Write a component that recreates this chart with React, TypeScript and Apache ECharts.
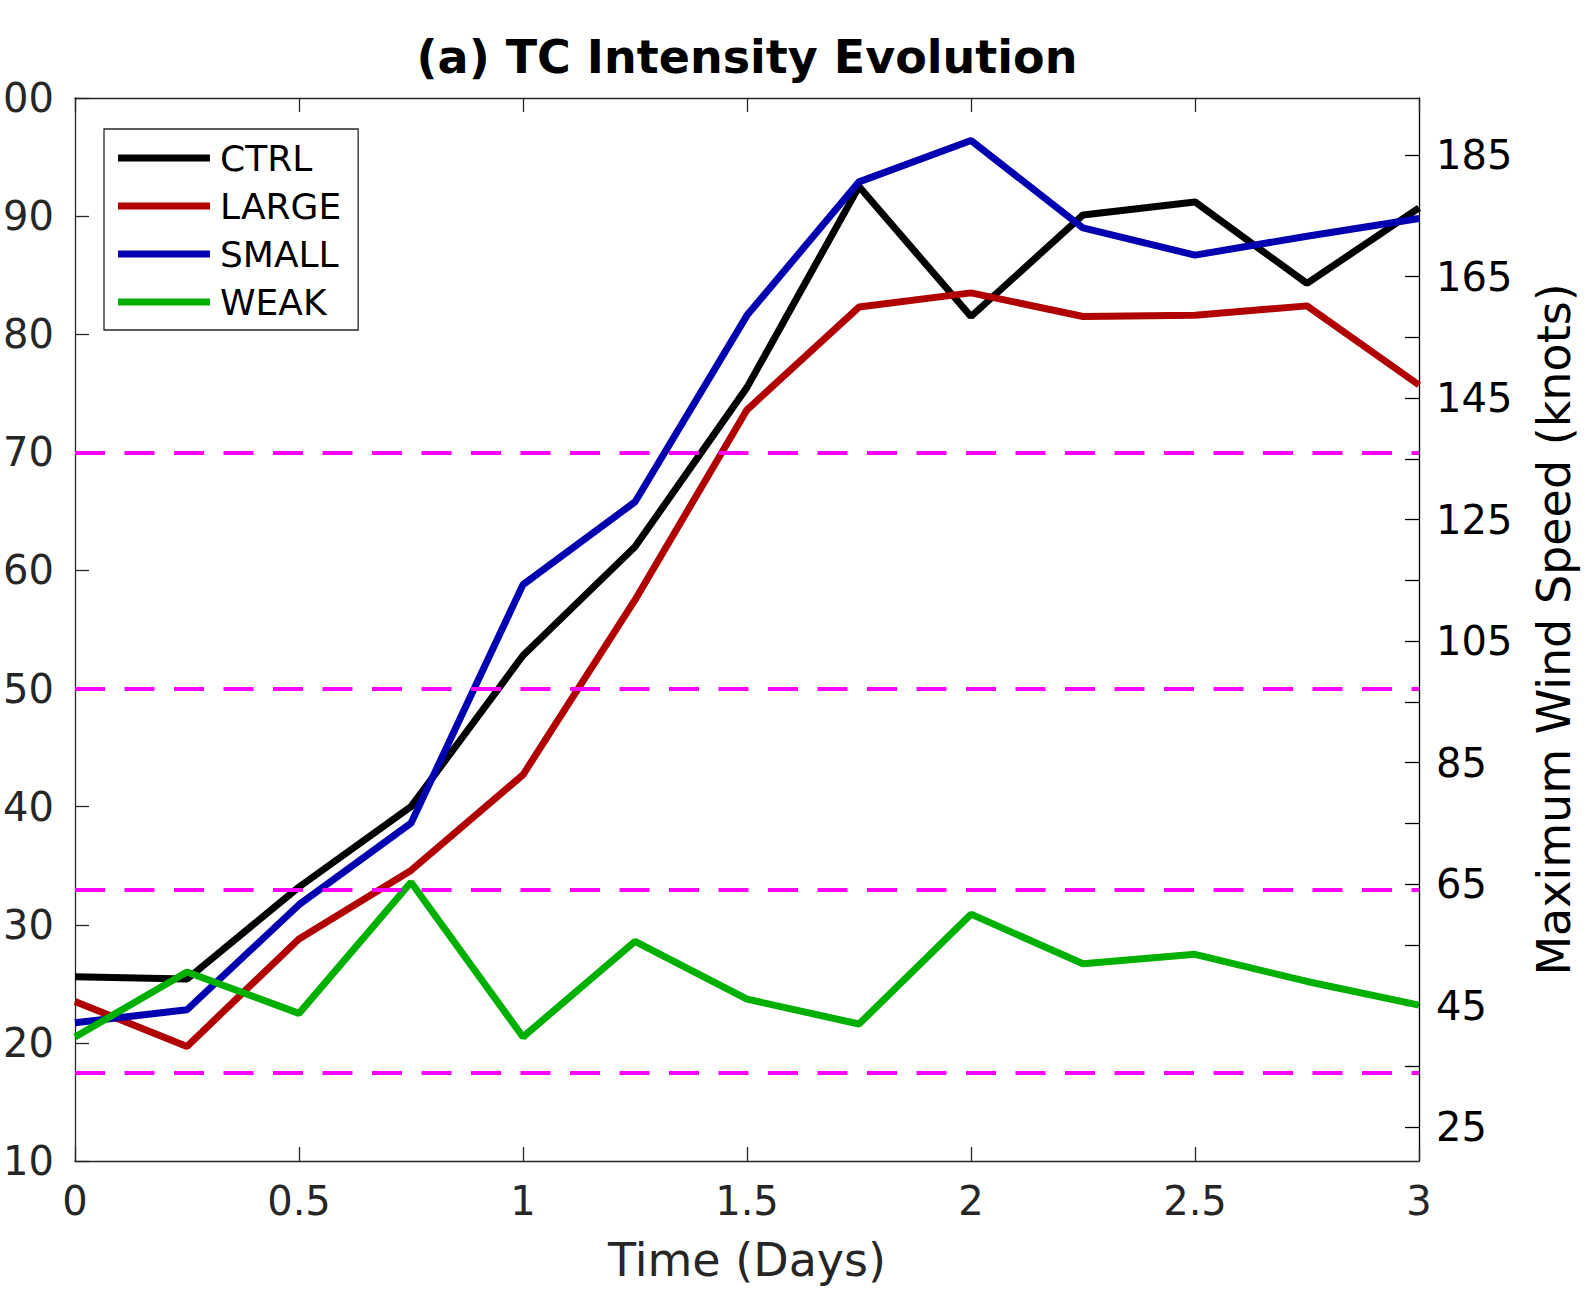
import React, { useEffect, useRef } from "react";
import * as echarts from "echarts";

const days = [0, 0.25, 0.5, 0.75, 1, 1.25, 1.5, 1.75, 2, 2.25, 2.5, 2.75, 3];
const ctrl = [25.6, 25.4, 33.2, 40.0, 52.8, 62.0, 75.5, 92.5, 81.5, 90.1, 91.2, 84.3, 90.7];
const large = [23.5, 19.7, 28.8, 34.6, 42.7, 57.5, 73.6, 82.3, 83.5, 81.5, 81.6, 82.4, 75.7];
const small = [21.7, 22.8, 31.7, 38.6, 58.8, 65.8, 81.6, 92.9, 96.4, 89.0, 86.7, 88.3, 89.8];
const weak = [20.5, 26.0, 22.5, 33.6, 20.5, 28.6, 23.7, 21.6, 30.9, 26.7, 27.5, 25.2, 23.2];
const thresholds = [17.5, 33, 50, 70];
const seriesNames = ["CTRL", "LARGE", "SMALL", "WEAK"];
const seriesColors = ["#000000", "#b00000", "#0000b0", "#00b000"];
const knotTicks = [25, 35, 45, 55, 65, 75, 85, 95, 105, 115, 125, 135, 145, 155, 165, 175, 185];
const knotLabels = [25, 45, 65, 85, 105, 125, 145, 165, 185];
const MS_TO_KT = 1.94384;
const yMin = 10;
const yMax = 100;

const FONT = "DejaVu Sans";

export default function App() {
  const ref = useRef<HTMLDivElement>(null);
  useEffect(() => {
    if (!ref.current) return;
    const chart = echarts.init(ref.current, null, { renderer: "svg" });
    const values = [ctrl, large, small, weak];
    const lineSeries = seriesNames.map((name, i) => ({
      name,
      type: "line",
      xAxisIndex: 0,
      yAxisIndex: 0,
      symbol: "none",
      z: 3,
      lineStyle: { color: seriesColors[i], width: 7 },
      itemStyle: { color: seriesColors[i] },
      data: days.map((d, j) => [d, values[i][j]]),
    }));
    chart.setOption({
      animation: false,
      backgroundColor: "#ffffff",
      textStyle: { fontFamily: FONT },
      graphic: [
        {
          type: "text",
          x: 747,
          y: 57,
          style: {
            text: "(a) TC Intensity Evolution",
            textAlign: "center",
            textVerticalAlign: "middle",
            fontFamily: FONT,
            fontSize: 46,
            fontWeight: "bold",
            fill: "#000000",
          },
        },
      ],
      grid: {
        left: 75,
        right: 170,
        top: 98,
        bottom: 130,
        containLabel: false,
        outerBoundsMode: "none",
      },
      legend: {
        data: seriesNames,
        orient: "vertical",
        left: 104,
        top: 129,
        icon: "rect",
        itemWidth: 92,
        itemHeight: 7,
        itemGap: 12,
        padding: [11, 17, 10, 14],
        borderColor: "#262626",
        borderWidth: 1.3,
        backgroundColor: "#ffffff",
        textStyle: {
          fontFamily: FONT,
          fontSize: 36,
          color: "#000000",
          padding: [0, 0, 0, 5],
          lineHeight: 36,
        },
      },
      xAxis: [
        {
          type: "value",
          min: 0,
          max: 3,
          interval: 0.5,
          position: "bottom",
          name: "Time (Days)",
          nameLocation: "middle",
          nameGap: 76,
          nameTextStyle: { fontFamily: FONT, fontSize: 46, color: "#262626" },
          axisLine: { onZero: false, lineStyle: { color: "#262626", width: 1.3 } },
          axisTick: { inside: true, length: 14, lineStyle: { color: "#262626", width: 1.3 } },
          axisLabel: { fontFamily: FONT, fontSize: 40, color: "#262626", margin: 20 },
          splitLine: { show: false },
        },
        {
          type: "value",
          min: 0,
          max: 3,
          interval: 0.5,
          position: "top",
          axisLine: { onZero: false, lineStyle: { color: "#262626", width: 1.3 } },
          axisTick: { inside: true, length: 14, lineStyle: { color: "#262626", width: 1.3 } },
          axisLabel: { show: false },
          splitLine: { show: false },
        },
      ],
      yAxis: [
        {
          type: "value",
          min: yMin,
          max: yMax,
          interval: 10,
          position: "left",
          axisLine: { onZero: false, lineStyle: { color: "#262626", width: 1.3 } },
          axisTick: { inside: true, length: 14, lineStyle: { color: "#262626", width: 1.3 } },
          axisLabel: { fontFamily: FONT, fontSize: 40, color: "#262626", margin: 21 },
          splitLine: { show: false },
        },
        {
          type: "value",
          min: yMin * MS_TO_KT,
          max: yMax * MS_TO_KT,
          position: "right",
          alignTicks: false,
          name: "Maximum Wind Speed (knots)",
          nameLocation: "middle",
          nameRotate: 90,
          nameGap: 112,
          nameTextStyle: { fontFamily: FONT, fontSize: 46, color: "#000000" },
          axisLine: { onZero: false, lineStyle: { color: "#000000", width: 1.3 } },
          axisTick: {
            inside: true,
            length: 14,
            customValues: knotTicks,
            lineStyle: { color: "#000000", width: 1.3 },
          },
          axisLabel: {
            fontFamily: FONT,
            fontSize: 40,
            color: "#000000",
            margin: 17,
            customValues: knotLabels,
          },
          splitLine: { show: false },
        },
      ],
      series: [
        {
          name: "thresholds",
          type: "line",
          xAxisIndex: 0,
          yAxisIndex: 0,
          data: [],
          z: 2,
          markLine: {
            silent: true,
            symbol: ["none", "none"],
            label: { show: false },
            lineStyle: { color: "#ff00ff", width: 4, type: [30, 19.5] },
            emphasis: { disabled: true },
            data: thresholds.map((v) => ({ yAxis: v })),
          },
        },
        ...lineSeries,
      ],
    });
    return () => chart.dispose();
  }, []);
  return (
    <div
      ref={ref}
      style={{ position: "absolute", left: 0, top: 0, width: 1589, height: 1291 }}
    />
  );
}
